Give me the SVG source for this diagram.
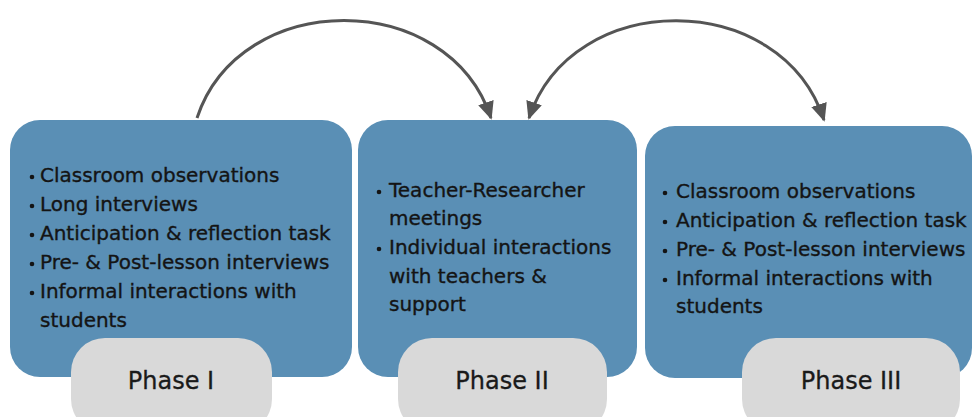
<svg xmlns="http://www.w3.org/2000/svg" width="973" height="417" viewBox="0 0 973 417">
  <style>
    .box { fill: #5a8fb5; }
    .pill { fill: #d9d9d9; }
    .item { font-family: "DejaVu Sans", "Liberation Sans", sans-serif; font-size: 20px; fill: #141414; stroke: #141414; stroke-width: 0.35; }
    .label { font-family: "DejaVu Sans", "Liberation Sans", sans-serif; font-size: 24px; fill: #1a1a1a; stroke: #1a1a1a; stroke-width: 0.3; text-anchor: middle; }
    .dot { fill: #141414; }
    .arc { fill: none; stroke: #555; stroke-width: 3; }
  </style>
  <defs>
    <marker id="head" viewBox="0 0 10 10" refX="9" refY="5" markerWidth="6" markerHeight="6" markerUnits="strokeWidth" orient="auto-start-reverse">
      <path d="M0,0.5 L10,5 L0,9.5 Z" fill="#555"/>
    </marker>
  </defs>

  <rect width="973" height="417" fill="#ffffff"/>

  <!-- connectors between phases -->
  <g id="connectors">
    <path class="arc" d="M197,118 C240,-12 448,-12 491,118" marker-end="url(#head)"/>
    <path class="arc" d="M529,118 C572,-12 781,-12 824,120" marker-start="url(#head)" marker-end="url(#head)"/>
  </g>

  <!-- Phase I -->
  <g id="phase1">
    <rect class="box" x="10" y="120" width="342" height="257" rx="30"/>
    <circle class="dot" cx="32" cy="177" r="2.3"/>
    <text class="item" x="40" y="182">Classroom observations</text>
    <circle class="dot" cx="32" cy="206" r="2.3"/>
    <text class="item" x="40" y="211">Long interviews</text>
    <circle class="dot" cx="32" cy="235" r="2.3"/>
    <text class="item" x="40" y="240">Anticipation &amp; reflection task</text>
    <circle class="dot" cx="32" cy="264" r="2.3"/>
    <text class="item" x="40" y="269">Pre- &amp; Post-lesson interviews</text>
    <circle class="dot" cx="32" cy="293" r="2.3"/>
    <text class="item" x="40" y="298">Informal interactions with</text>
    <text class="item" x="40" y="327">students</text>
    <rect class="pill" x="71" y="338" width="201" height="95" rx="34"/>
    <text class="label" x="171" y="389">Phase I</text>
  </g>

  <!-- Phase II -->
  <g id="phase2">
    <rect class="box" x="358" y="120" width="279" height="257" rx="30"/>
    <circle class="dot" cx="379" cy="192" r="2.3"/>
    <text class="item" x="389" y="197">Teacher-Researcher</text>
    <text class="item" x="389" y="225">meetings</text>
    <circle class="dot" cx="379" cy="249" r="2.3"/>
    <text class="item" x="389" y="254">Individual interactions</text>
    <text class="item" x="389" y="283">with teachers &amp;</text>
    <text class="item" x="389" y="311">support</text>
    <rect class="pill" x="398" y="338" width="209" height="95" rx="34"/>
    <text class="label" x="502" y="389">Phase II</text>
  </g>

  <!-- Phase III -->
  <g id="phase3">
    <rect class="box" x="645" y="126" width="327" height="252" rx="30"/>
    <circle class="dot" cx="665" cy="193" r="2.3"/>
    <text class="item" x="676" y="198">Classroom observations</text>
    <circle class="dot" cx="665" cy="222" r="2.3"/>
    <text class="item" x="676" y="227">Anticipation &amp; reflection task</text>
    <circle class="dot" cx="665" cy="251" r="2.3"/>
    <text class="item" x="676" y="256">Pre- &amp; Post-lesson interviews</text>
    <circle class="dot" cx="665" cy="280" r="2.3"/>
    <text class="item" x="676" y="285">Informal interactions with</text>
    <text class="item" x="676" y="313">students</text>
    <rect class="pill" x="742" y="338" width="218" height="95" rx="34"/>
    <text class="label" x="851" y="389">Phase III</text>
  </g>
</svg>
